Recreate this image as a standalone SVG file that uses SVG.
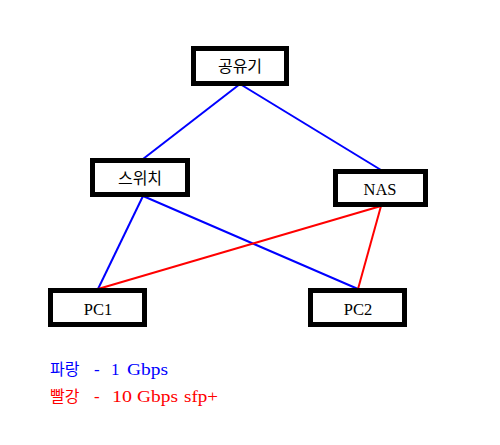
<svg xmlns="http://www.w3.org/2000/svg" width="500" height="445" viewBox="0 0 500 445">
<style>
.box{fill:#fff;stroke:#000;stroke-width:5}
.lbl{font-family:"Liberation Serif","Noto Sans CJK KR",serif;font-size:16.5px;fill:#000;text-anchor:middle}
.ko{font-family:"Noto Sans CJK KR",sans-serif;font-size:16px}
.blue{stroke:#0000ff;stroke-width:2;fill:none}
.red{stroke:#ff0000;stroke-width:2;fill:none}
.leg{font-family:"Liberation Serif","Noto Sans CJK KR",serif;font-size:17px}
.legk{font-family:"Noto Sans CJK KR",sans-serif;font-size:16px}
</style>
<rect width="500" height="445" fill="#fff"/>
<g id="connectors">
<line class="blue" x1="240" y1="84" x2="143" y2="159"/>
<line class="blue" x1="240" y1="84" x2="381" y2="170"/>
<line class="blue" x1="143" y1="196" x2="98" y2="289"/>
<line class="blue" x1="143" y1="196" x2="358" y2="289"/>
<line class="red" x1="381" y1="206" x2="98" y2="289"/>
<line class="red" x1="381" y1="206" x2="358" y2="289"/>
</g>
<g id="router"><rect class="box" x="193.5" y="48.5" width="93" height="35"/><text class="lbl ko" x="240" y="72">공유기</text></g>
<g id="switch"><rect class="box" x="92.5" y="160.5" width="95" height="34"/><text class="lbl ko" x="140" y="184">스위치</text></g>
<g id="nas"><rect class="box" x="335.5" y="171.5" width="90" height="33"/><text class="lbl" x="380" y="195">NAS</text></g>
<g id="pc1"><rect class="box" x="50.5" y="290.5" width="94" height="34"/><text class="lbl" x="98" y="315">PC1</text></g>
<g id="pc2"><rect class="box" x="310.5" y="290.5" width="94" height="34"/><text class="lbl" x="358" y="315">PC2</text></g>
<g id="legend" fill="#0000ff">
<text class="legk" x="50" y="375">파랑</text>
<text class="leg" x="94" y="375">-</text>
<text class="leg" x="111" y="375">1</text>
<text class="leg" x="127" y="375" textLength="41" lengthAdjust="spacingAndGlyphs">Gbps</text>
</g>
<g id="legend2" fill="#ff0000">
<text class="legk" x="50" y="402">빨강</text>
<text class="leg" x="94" y="402">-</text>
<text class="leg" x="112" y="402" textLength="20" lengthAdjust="spacingAndGlyphs">10</text>
<text class="leg" x="137" y="402" textLength="41" lengthAdjust="spacingAndGlyphs">Gbps</text>
<text class="leg" x="184" y="402" textLength="34" lengthAdjust="spacingAndGlyphs">sfp+</text>
</g>
</svg>
